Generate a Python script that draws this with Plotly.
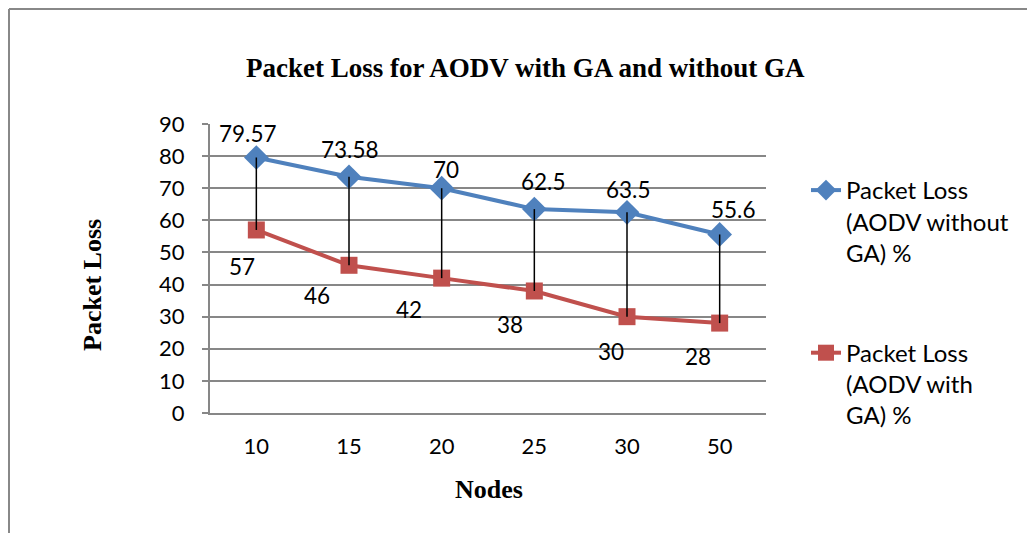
import plotly.graph_objects as go

# ---- data ----
nodes = ["10", "15", "20", "25", "30", "50"]
loss_without_ga = [79.57, 73.58, 70, 63.5, 62.5, 55.6]
loss_with_ga = [57, 46, 42, 38, 30, 28]
labels_without_ga = ["79.57", "73.58", "70", "62.5", "63.5", "55.6"]
labels_with_ga = ["57", "46", "42", "38", "30", "28"]
y_ticks = [0, 10, 20, 30, 40, 50, 60, 70, 80, 90]

name_without = "Packet Loss<br>(AODV without<br>GA) %"
name_with = "Packet Loss<br>(AODV with<br>GA) %"

# ---- style / layout constants ----
W, H = 1035, 533
OFF = 8  # page body margin
PL, PR, PT, PB = 210, 766, 124, 413  # plot area in screen pixels
PW, PH = PR - PL, PB - PT
BLUE = "#4F81BD"
RED = "#C0504D"
GRID = "#878787"
SANS = "Lato, Carlito, Calibri, sans-serif"
SERIF = "Liberation Serif, Times New Roman, serif"

# label pixel offsets (dx right, dy down)
off_blue = [(-8, -24), (1, -27), (4, -19), (9, -28), (1, -23), (13, -25)]
off_red = [(-14, 37), (-32, 30), (-33, 31), (-24, 34), (-16, 35), (-22, 33)]


def px_x(p):
    return (p - PL) / PW


def px_y(p):
    return (PB - p) / PH


fig = go.Figure()

fig.add_trace(go.Scatter(
    x=nodes, y=loss_without_ga, name=name_without, mode="lines+markers",
    line=dict(color=BLUE, width=4),
    marker=dict(symbol="diamond", size=19, color=BLUE),
    legendgroup="a",
))
fig.add_trace(go.Scatter(
    x=nodes, y=loss_with_ga, name=name_with, mode="lines+markers",
    line=dict(color=RED, width=4),
    marker=dict(symbol="square", size=17, color=RED),
    legendgroup="b",
))

# high-low lines
hx, hy = [], []
for c, a, b in zip(nodes, loss_without_ga, loss_with_ga):
    hx += [c, c, None]
    hy += [a, b, None]
fig.add_trace(go.Scatter(
    x=hx, y=hy, mode="lines", line=dict(color="black", width=1.5),
    showlegend=False, hoverinfo="skip",
))

annotations = []
for i, (v, t, (dx, dy)) in enumerate(zip(loss_without_ga, labels_without_ga, off_blue)):
    annotations.append(dict(x=i, y=v, xref="x", yref="y", text=t, showarrow=False,
                            xanchor="center", yanchor="middle",
                            xshift=dx, yshift=-dy,
                            font=dict(family=SANS, size=22.5, color="black")))
for i, (v, t, (dx, dy)) in enumerate(zip(loss_with_ga, labels_with_ga, off_red)):
    annotations.append(dict(x=i, y=v, xref="x", yref="y", text=t, showarrow=False,
                            xanchor="center", yanchor="middle",
                            xshift=dx, yshift=-dy,
                            font=dict(family=SANS, size=22.5, color="black")))

annotations += [
    dict(x=px_x(525), y=px_y(68), xref="paper", yref="paper", showarrow=False,
         xanchor="center", yanchor="middle",
         text="<b>Packet Loss for AODV with GA and without GA</b>",
         font=dict(family=SERIF, size=27, color="black")),
    dict(x=px_x(489), y=px_y(489), xref="paper", yref="paper", showarrow=False,
         xanchor="center", yanchor="middle",
         text="<b>Nodes</b>", font=dict(family=SERIF, size=26, color="black")),
    dict(x=px_x(92), y=px_y(285), xref="paper", yref="paper", showarrow=False,
         xanchor="center", yanchor="middle",
         text="<b>Packet Loss</b>", textangle=-90,
         font=dict(family=SERIF, size=26, color="black")),
]

shapes = [
    dict(type="line", xref="paper", yref="paper", x0=px_x(9), x1=px_x(9),
         y0=px_y(9), y1=px_y(600), line=dict(color="#888888", width=2)),
    dict(type="line", xref="paper", yref="paper", x0=px_x(9), x1=px_x(1100),
         y0=px_y(9), y1=px_y(9), line=dict(color="#888888", width=2)),
]

fig.update_layout(
    width=W, height=H,
    margin=dict(l=PL - OFF, r=W - (PR - OFF), t=PT - OFF, b=H - (PB - OFF),
                autoexpand=False),
    paper_bgcolor="white", plot_bgcolor="white",
    showlegend=True,
    legend=dict(x=px_x(806), y=px_y(168), xanchor="left", yanchor="top",
                valign="top", traceorder="grouped", tracegroupgap=66,
                font=dict(family=SANS, size=24, color="black"),
                bgcolor="rgba(0,0,0,0)"),
    annotations=annotations,
    shapes=shapes,
)

fig.update_xaxes(
    type="category", range=[-0.5, 5.5],
    showgrid=False, showline=True, linecolor=GRID, linewidth=2,
    ticks="", tickfont=dict(family=SANS, size=22, color="black"),
    ticklabelstandoff=13, zeroline=False,
)
fig.update_yaxes(
    range=[0, 90], tickvals=y_ticks,
    showgrid=True, gridcolor=GRID, gridwidth=1.5,
    showline=True, linecolor=GRID, linewidth=2,
    ticks="outside", ticklen=6, tickcolor=GRID, tickwidth=2,
    tickfont=dict(family=SANS, size=22, color="black"),
    ticklabelstandoff=13, zeroline=False,
)

fig.write_html("out.html")
